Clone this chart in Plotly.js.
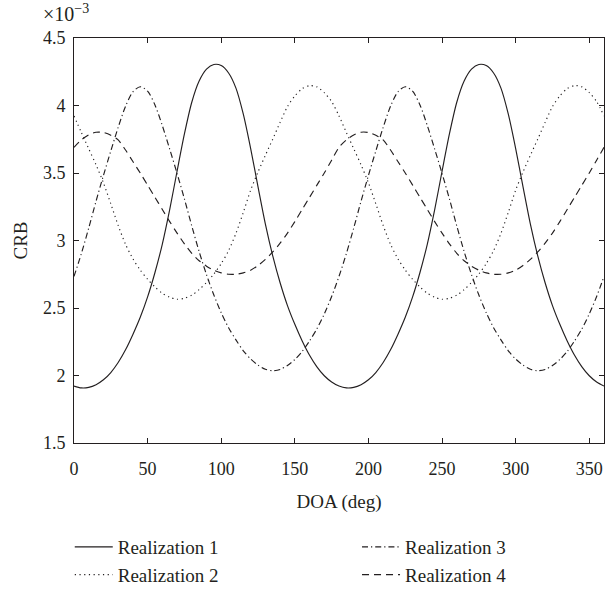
<!DOCTYPE html>
<html>
<head>
<meta charset="utf-8">
<script src="https://cdn.plot.ly/plotly-3.0.1.min.js"></script>
<style>html,body{margin:0;padding:0;background:#fff;}#chart{width:606px;height:596px;}</style>
</head>
<body>
<div id="chart"></div>
<script>
// DOA (deg), 0..360 every 5 deg
var doa = [0,5,10,15,20,25,30,35,40,45,50,55,60,65,70,75,80,85,90,95,100,105,110,115,120,125,130,135,140,145,150,155,160,165,170,175,180,
           185,190,195,200,205,210,215,220,225,230,235,240,245,250,255,260,265,270,275,280,285,290,295,300,305,310,315,320,325,330,335,340,345,350,355,360];
// CRB values (x 1e-3)
var realization1 = [1.922,1.908,1.912,1.932,1.968,2.022,2.096,2.19,2.304,2.431,2.582,2.763,2.974,3.229,3.513,3.789,4.024,4.181,4.269,4.304,4.296,4.241,4.129,3.936,3.681,3.397,3.121,2.886,2.687,2.518,2.379,2.256,2.15,2.064,1.998,1.952,1.922,
                    1.908,1.912,1.932,1.968,2.022,2.096,2.19,2.304,2.431,2.582,2.763,2.974,3.229,3.513,3.789,4.024,4.181,4.269,4.304,4.296,4.241,4.129,3.936,3.681,3.397,3.121,2.886,2.687,2.518,2.379,2.256,2.15,2.064,1.998,1.952,1.922];
var realization2 = [3.923,3.80,3.68,3.56,3.427,3.272,3.112,2.972,2.865,2.781,2.713,2.656,2.609,2.58,2.565,2.572,2.595,2.636,2.689,2.752,2.829,2.925,3.053,3.208,3.373,3.508,3.631,3.751,3.875,3.992,4.071,4.125,4.147,4.138,4.095,4.029,3.923,
                    3.80,3.68,3.56,3.427,3.272,3.112,2.972,2.865,2.781,2.713,2.656,2.609,2.58,2.565,2.572,2.595,2.636,2.689,2.752,2.829,2.925,3.053,3.208,3.373,3.508,3.631,3.751,3.875,3.992,4.071,4.125,4.147,4.138,4.095,4.029,3.923];
var realization3 = [2.734,2.903,3.092,3.292,3.482,3.663,3.838,3.994,4.101,4.139,4.106,4.004,3.851,3.677,3.497,3.308,3.108,2.918,2.747,2.596,2.465,2.354,2.264,2.183,2.122,2.077,2.046,2.035,2.045,2.074,2.118,2.178,2.256,2.346,2.456,2.585,2.734,
                    2.903,3.092,3.292,3.482,3.663,3.838,3.994,4.101,4.139,4.106,4.004,3.851,3.677,3.497,3.308,3.108,2.918,2.747,2.596,2.465,2.354,2.264,2.183,2.122,2.077,2.046,2.035,2.045,2.074,2.118,2.178,2.256,2.346,2.456,2.585,2.734];
var realization4 = [3.69,3.745,3.782,3.802,3.80,3.78,3.745,3.67,3.585,3.50,3.41,3.32,3.23,3.14,3.055,2.975,2.905,2.85,2.81,2.78,2.76,2.75,2.75,2.76,2.78,2.815,2.86,2.915,2.98,3.055,3.14,3.23,3.32,3.41,3.50,3.595,3.69,
                    3.745,3.782,3.802,3.80,3.78,3.745,3.67,3.585,3.50,3.41,3.32,3.23,3.14,3.055,2.975,2.905,2.85,2.81,2.78,2.76,2.75,2.75,2.76,2.78,2.815,2.86,2.915,2.98,3.055,3.14,3.23,3.32,3.41,3.50,3.595,3.69];
var names = ["Realization 1","Realization 2","Realization 3","Realization 4"];
var xTicks = [0,50,100,150,200,250,300,350];
var yTicks = [1.5,2,2.5,3,3.5,4,4.5];

var ink = '#231f20';
var font = 'Liberation Serif, Times New Roman, serif';

function tr(y, name, dash, leg) {
  return {x: doa, y: y, name: name, type: 'scatter', mode: 'lines',
          line: {color: ink, width: 1.15, dash: dash, shape: 'spline', smoothing: 0.8},
          legend: leg};
}
var data = [
  tr(realization1, names[0], 'solid', 'legend'),
  tr(realization2, names[1], '1.2px,3.5px', 'legend'),
  tr(realization3, names[2], '6px,3px,1.2px,3px', 'legend2'),
  tr(realization4, names[3], '7px,5px', 'legend2')
];

var axisCommon = {
  showline: true, linecolor: ink, linewidth: 1, mirror: 'ticks',
  ticks: 'inside', ticklen: 5, tickcolor: ink, tickwidth: 1,
  showgrid: false, zeroline: false,
  tickfont: {family: font, size: 18, color: ink}
};

var legendFont = {family: font, size: 19, color: ink};

var layout = {
  width: 606, height: 596,
  margin: {l: 73.7, r: 2, t: 38, b: 140},
  paper_bgcolor: '#fff', plot_bgcolor: '#fff',
  font: {family: font, size: 18, color: ink},
  showlegend: true,
  xaxis: Object.assign({}, axisCommon, {
    range: [0, 360], tickmode: 'array', tickvals: xTicks,
    ticklabelstandoff: 9,
    title: {text: 'DOA (deg)', font: {family: font, size: 19, color: ink}, standoff: 17},
    automargin: false
  }),
  yaxis: Object.assign({}, axisCommon, {
    range: [1.5, 4.5], tickmode: 'array', tickvals: yTicks,
    ticktext: yTicks.map(function(v){return String(v);}),
    ticklabelstandoff: 4,
    title: {text: 'CRB', font: {family: font, size: 19, color: ink}, standoff: 10},
    automargin: false
  }),
  legend: {x: -0.008, y: -0.21, xanchor: 'left', yanchor: 'top', orientation: 'v', itemwidth: 38,
           bgcolor: 'rgba(0,0,0,0)', font: legendFont, tracegroupgap: 0},
  legend2: {x: 0.534, y: -0.21, xanchor: 'left', yanchor: 'top', orientation: 'v', itemwidth: 38,
           bgcolor: 'rgba(0,0,0,0)', font: legendFont, tracegroupgap: 0},
  annotations: [{
    xref: 'paper', yref: 'paper', x: -0.062, y: 1.062, xanchor: 'left', yanchor: 'middle',
    text: '\u00d710<sup>\u22123</sup>', showarrow: false,
    font: {family: font, size: 20, color: ink}
  }]
};

Plotly.newPlot('chart', data, layout, {displayModeBar: false, staticPlot: true});
</script>
</body>
</html>
